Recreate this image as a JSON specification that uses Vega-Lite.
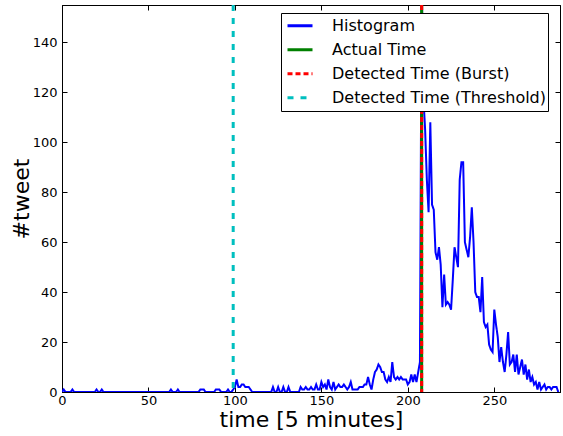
{
"$schema": "https://vega.github.io/schema/vega-lite/v6.json",
"width": 498, "height": 387,
"autosize": {"type": "none"},
"padding": {"left": 62, "top": 5, "right": 3, "bottom": 44},
"config": {
  "font": "DejaVu Sans",
  "view": {"stroke": "black", "strokeWidth": 1},
  "axis": {"grid": false, "domainColor": "black", "tickColor": "black", "labelColor": "black", "titleColor": "black", "labelFontSize": 13, "titleFontSize": 22, "titleFontWeight": "normal", "labelFont": "DejaVu Sans", "titleFont": "DejaVu Sans", "tickSize": -5, "domainWidth": 1, "labelFlush": false}
},
"datasets": {
  "hist": [
{"t":0,"v":0},{"t":1,"v":1},{"t":2,"v":0},{"t":3,"v":0},{"t":4,"v":0},{"t":5,"v":0},{"t":6,"v":1},{"t":7,"v":0},{"t":8,"v":0},{"t":9,"v":0},
{"t":10,"v":0},{"t":11,"v":0},{"t":12,"v":0},{"t":13,"v":0},{"t":14,"v":0},{"t":15,"v":0},{"t":16,"v":0},{"t":17,"v":0},{"t":18,"v":0},{"t":19,"v":0},
{"t":20,"v":1},{"t":21,"v":0},{"t":22,"v":0},{"t":23,"v":1},{"t":24,"v":0},{"t":25,"v":0},{"t":26,"v":0},{"t":27,"v":0},{"t":28,"v":0},{"t":29,"v":0},
{"t":30,"v":0},{"t":31,"v":0},{"t":32,"v":0},{"t":33,"v":0},{"t":34,"v":0},{"t":35,"v":0},{"t":36,"v":0},{"t":37,"v":0},{"t":38,"v":0},{"t":39,"v":0},
{"t":40,"v":0},{"t":41,"v":0},{"t":42,"v":0},{"t":43,"v":0},{"t":44,"v":0},{"t":45,"v":0},{"t":46,"v":0},{"t":47,"v":0},{"t":48,"v":0},{"t":49,"v":0},
{"t":50,"v":0},{"t":51,"v":0},{"t":52,"v":0},{"t":53,"v":0},{"t":54,"v":0},{"t":55,"v":0},{"t":56,"v":0},{"t":57,"v":0},{"t":58,"v":0},{"t":59,"v":0},
{"t":60,"v":0},{"t":61,"v":0},{"t":62,"v":0},{"t":63,"v":1},{"t":64,"v":0},{"t":65,"v":0},{"t":66,"v":0},{"t":67,"v":1},{"t":68,"v":0},{"t":69,"v":0},
{"t":70,"v":0},{"t":71,"v":0},{"t":72,"v":0},{"t":73,"v":0},{"t":74,"v":0},{"t":75,"v":0},{"t":76,"v":0},{"t":77,"v":0},{"t":78,"v":0},{"t":79,"v":0},
{"t":80,"v":1},{"t":81,"v":1},{"t":82,"v":1},{"t":83,"v":0},{"t":84,"v":0},{"t":85,"v":0},{"t":86,"v":0},{"t":87,"v":0},{"t":88,"v":0},{"t":89,"v":1},
{"t":90,"v":1},{"t":91,"v":1},{"t":92,"v":0},{"t":93,"v":0},{"t":94,"v":0},{"t":95,"v":0},{"t":96,"v":1},{"t":97,"v":0},{"t":98,"v":0},{"t":99,"v":1},
{"t":100,"v":2},{"t":101,"v":5},{"t":102,"v":2},{"t":103,"v":2},{"t":104,"v":3},{"t":105,"v":3},{"t":106,"v":2},{"t":107,"v":2},{"t":108,"v":2},{"t":109,"v":1},
{"t":110,"v":0},{"t":111,"v":0},{"t":112,"v":0},{"t":113,"v":0},{"t":114,"v":0},{"t":115,"v":0},{"t":116,"v":0},{"t":117,"v":0},{"t":118,"v":0},{"t":119,"v":0},
{"t":120,"v":0},{"t":121,"v":0},{"t":122,"v":2},{"t":123,"v":0},{"t":124,"v":0},{"t":125,"v":2},{"t":126,"v":0},{"t":127,"v":0},{"t":128,"v":2},{"t":129,"v":0},
{"t":130,"v":0},{"t":131,"v":2},{"t":132,"v":0},{"t":133,"v":0},{"t":134,"v":0},{"t":135,"v":0},{"t":136,"v":0},{"t":137,"v":0},{"t":138,"v":2},{"t":139,"v":1},
{"t":140,"v":1},{"t":141,"v":2},{"t":142,"v":1},{"t":143,"v":1},{"t":144,"v":2},{"t":145,"v":1},{"t":146,"v":1},{"t":147,"v":3},{"t":148,"v":1},{"t":149,"v":1},
{"t":150,"v":4},{"t":151,"v":2},{"t":152,"v":3},{"t":153,"v":1},{"t":154,"v":5},{"t":155,"v":2},{"t":156,"v":1},{"t":157,"v":4},{"t":158,"v":1},{"t":159,"v":2},
{"t":160,"v":3},{"t":161,"v":2},{"t":162,"v":2},{"t":163,"v":3},{"t":164,"v":2},{"t":165,"v":1},{"t":166,"v":2},{"t":167,"v":4},{"t":168,"v":1},{"t":169,"v":1},
{"t":170,"v":1},{"t":171,"v":1},{"t":172,"v":2},{"t":173,"v":2},{"t":174,"v":2},{"t":175,"v":3},{"t":176,"v":3},{"t":177,"v":6},{"t":178,"v":3},{"t":179,"v":1},
{"t":180,"v":5},{"t":181,"v":8},{"t":182,"v":9},{"t":183,"v":11},{"t":184,"v":10},{"t":185,"v":8},{"t":186,"v":8},{"t":187,"v":5},{"t":188,"v":4},{"t":189,"v":6},
{"t":190,"v":4},{"t":191,"v":12},{"t":192,"v":6},{"t":193,"v":5},{"t":194,"v":6},{"t":195,"v":5},{"t":196,"v":6},{"t":197,"v":5},{"t":198,"v":5},{"t":199,"v":5},
{"t":200,"v":3},{"t":201,"v":4},{"t":202,"v":7},{"t":203,"v":4},{"t":204,"v":7},{"t":205,"v":4},{"t":206,"v":8},{"t":207,"v":12},{"t":208,"v":165},{"t":209,"v":118},
{"t":210,"v":105},{"t":211,"v":85},{"t":212,"v":72},{"t":213,"v":108},{"t":214,"v":75},{"t":215,"v":73},{"t":216,"v":56},{"t":217,"v":53},{"t":218,"v":58},{"t":219,"v":51},
{"t":220,"v":34},{"t":221,"v":47},{"t":222,"v":35},{"t":223,"v":36},{"t":224,"v":35},{"t":225,"v":33},{"t":226,"v":45},{"t":227,"v":58},{"t":228,"v":54},{"t":229,"v":50},
{"t":230,"v":85},{"t":231,"v":92},{"t":232,"v":92},{"t":233,"v":60},{"t":234,"v":57},{"t":235,"v":54},{"t":236,"v":62},{"t":237,"v":74},{"t":238,"v":60},{"t":239,"v":40},
{"t":240,"v":38},{"t":241,"v":38},{"t":242,"v":32},{"t":243,"v":46},{"t":244,"v":28},{"t":245,"v":26},{"t":246,"v":27},{"t":247,"v":19},{"t":248,"v":17},{"t":249,"v":16},
{"t":250,"v":33},{"t":251,"v":27},{"t":252,"v":22},{"t":253,"v":12},{"t":254,"v":18},{"t":255,"v":12},{"t":256,"v":8},{"t":257,"v":15},{"t":258,"v":24},{"t":259,"v":11},
{"t":260,"v":12},{"t":261,"v":15},{"t":262,"v":8},{"t":263,"v":15},{"t":264,"v":7},{"t":265,"v":10},{"t":266,"v":13},{"t":267,"v":7},{"t":268,"v":11},{"t":269,"v":5},
{"t":270,"v":9},{"t":271,"v":4},{"t":272,"v":6},{"t":273,"v":3},{"t":274,"v":4},{"t":275,"v":1},{"t":276,"v":4},{"t":277,"v":1},{"t":278,"v":2},{"t":279,"v":3},
{"t":280,"v":1},{"t":281,"v":2},{"t":282,"v":2},{"t":283,"v":1},{"t":284,"v":2},{"t":285,"v":2},{"t":286,"v":2},{"t":287,"v":0}
  ],
  "marks": [
    {"x": 208, "series": "Actual Time"},
    {"x": 208, "series": "Detected Time (Burst)"},
    {"x": 99, "series": "Detected Time (Threshold)"}
  ]
},
"layer": [
  {
    "data": {"name": "hist"},
    "mark": {"type": "line", "strokeWidth": 2, "clip": true},
    "encoding": {
      "x": {"field": "t", "type": "quantitative", "scale": {"domain": [0, 288], "nice": false, "zero": false},
            "axis": {"orient": "bottom", "values": [0, 50, 100, 150, 200, 250], "title": "time [5 minutes]", "labelPadding": 7, "titlePadding": 2}},
      "y": {"field": "v", "type": "quantitative", "scale": {"domain": [0, 155], "nice": false},
            "axis": {"orient": "left", "values": [0, 20, 40, 60, 80, 100, 120, 140], "title": "#tweet", "labelPadding": 10, "titlePadding": -1}},
      "color": {"datum": "Histogram", "type": "nominal", "title": null,
                "scale": {"domain": ["Histogram", "Actual Time", "Detected Time (Burst)", "Detected Time (Threshold)"], "range": ["#0000ff", "#008000", "#ff0000", "#00bfbf"]},
                "legend": {"title": null, "orient": "none", "legendX": 219, "legendY": 8, "symbolType": "stroke", "symbolStrokeWidth": 3, "symbolSize": 625, "symbolOffset": 4, "clipHeight": 23.5, "labelFontSize": 16, "labelFont": "DejaVu Sans", "labelColor": "black", "strokeColor": "black", "fillColor": "white", "padding": 1, "rowPadding": 0, "labelOffset": 18, "labelLimit": 400, "cornerRadius": 0}},
      "strokeDash": {"datum": "Histogram", "type": "nominal", "title": null,
                "scale": {"domain": ["Histogram", "Actual Time", "Detected Time (Burst)", "Detected Time (Threshold)"], "range": [[1, 0], [1, 0], [5, 3], [6, 7]]},
                "legend": {"title": null}}
    }
  },
  {
    "data": {"name": "marks"},
    "mark": {"type": "rule", "strokeWidth": 3},
    "encoding": {
      "x": {"field": "x", "type": "quantitative", "axis": null},
      "color": {"field": "series", "type": "nominal", "title": null},
      "strokeDash": {"field": "series", "type": "nominal", "title": null}
    }
  },
  {
    "data": {"name": "hist"},
    "mark": {"type": "line", "opacity": 0, "clip": true},
    "encoding": {
      "x": {"field": "t", "type": "quantitative", "axis": {"orient": "top", "values": [0, 50, 100, 150, 200, 250], "labels": false, "title": null}},
      "y": {"field": "v", "type": "quantitative", "axis": {"orient": "right", "values": [0, 20, 40, 60, 80, 100, 120, 140], "labels": false, "title": null}}
    }
  }
],
"resolve": {"axis": {"x": "independent", "y": "independent"}}
}
